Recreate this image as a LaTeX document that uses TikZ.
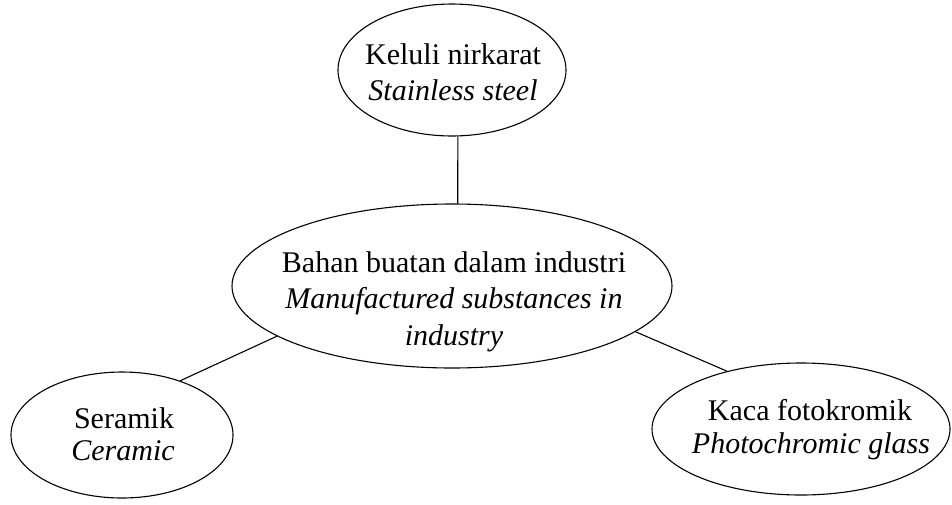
\documentclass[tikz,border=0pt]{standalone}
\usepackage{fontspec}
\setmainfont{Liberation Serif}
\usetikzlibrary{shapes.geometric}
\begin{document}
\begin{tikzpicture}[x=1pt,y=-1pt,
  oval/.style={draw, ellipse, line width=1.1pt, inner sep=0pt},
  txt/.style={anchor=base, inner sep=0pt, font=\fontsize{30}{36}\selectfont},
  itxt/.style={anchor=base, inner sep=0pt, font=\fontsize{30}{36}\selectfont\itshape},
  link/.style={line width=1.1pt}]
\fill[white] (0,0) rectangle (952,504);
\useasboundingbox (0,0) rectangle (952,504);

% the four ovals
\node[oval, minimum width=228pt, minimum height=132pt] (steel) at (452,70) {};
\node[oval, minimum width=440pt, minimum height=164pt] (main) at (452,286) {};
\node[oval, minimum width=222pt, minimum height=126pt] (ceramic) at (122,435) {};
\node[oval, minimum width=298pt, minimum height=132pt] (glass) at (801,429) {};

% labels, one node per line
\node[txt]  (steelA) at (453,64)  {Keluli nirkarat};
\node[itxt] (steelB) at (453,100) {Stainless steel};

\node[txt]  (mainA) at (454,272) {Bahan buatan dalam industri};
\node[itxt] (mainB) at (454,308) {Manufactured substances in};
\node[itxt] (mainC) at (454,345) {industry};

\node[txt]  (ceramicA) at (124,428) {Seramik};
\node[itxt] (ceramicB) at (123,460) {Ceramic};

\node[txt]  (glassA) at (810,420) {Kaca fotokromik};
\node[itxt] (glassB) at (811,453) {Photochromic glass};

% connectors
\draw[link] (steel.-85) -- (main.86);
\draw[link] (main.-164) -- (ceramic.43);
\draw[link] (main.-14) -- (glass.142);
\end{tikzpicture}
\end{document}
